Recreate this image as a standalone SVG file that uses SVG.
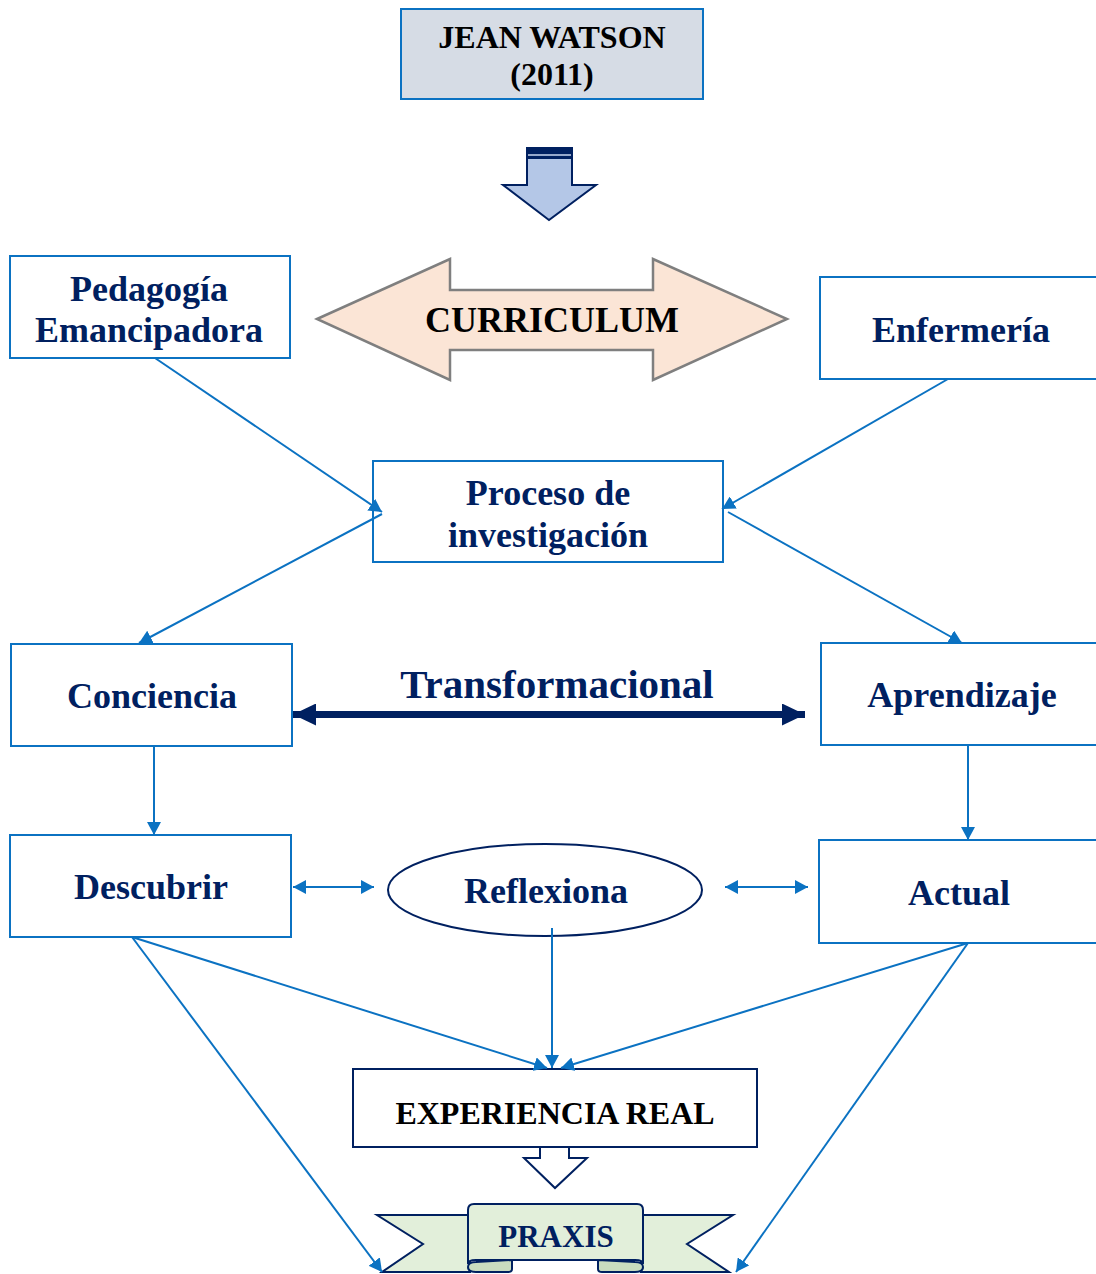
<svg xmlns="http://www.w3.org/2000/svg" width="1096" height="1274" viewBox="0 0 1096 1274">
  <defs>
    <style>
      .box { fill: #ffffff; stroke: #0b72c2; stroke-width: 2; }
      .lbl { font-family: "Liberation Serif", "Times New Roman", serif; font-weight: bold; font-size: 36px; fill: #002060; text-anchor: middle; }
      .blk { fill: #000000; }
      .s31 { font-size: 31px; }
      .s32 { font-size: 32px; }
      .s41 { font-size: 41px; }
      .link { fill: none; stroke: #0b72c2; stroke-width: 2; }
      .navy { stroke: #002060; stroke-width: 2; }
    </style>
    <marker id="tip" viewBox="0 0 13 14" refX="13" refY="7" markerWidth="13" markerHeight="14" markerUnits="userSpaceOnUse" orient="auto-start-reverse">
      <path d="M0,0 L13,7 L0,14 Z" fill="#0b72c2"/>
    </marker>
    <marker id="bigtip" viewBox="0 0 23 22" refX="23" refY="11" markerWidth="23" markerHeight="22" markerUnits="userSpaceOnUse" orient="auto-start-reverse">
      <path d="M0,0 L23,11 L0,22 Z" fill="#002060"/>
    </marker>
  </defs>

  <rect width="1096" height="1274" fill="#ffffff"/>

  <!-- Title -->
  <g id="watson">
    <rect x="401" y="9" width="302" height="90" fill="#d6dce5" stroke="#0b72c2" stroke-width="2"/>
    <text class="lbl blk s32" x="552" y="48">JEAN WATSON</text>
    <text class="lbl blk s32" x="552" y="85">(2011)</text>
  </g>

  <!-- Block arrow under the title -->
  <g id="down-arrow">
    <polygon points="527,148 572,148 572,185 596,185 549,220 503,185 527,185" fill="#b4c7e7" class="navy"/>
    <rect x="527" y="148" width="45" height="11" fill="#002060"/>
    <line x1="528" y1="155" x2="571" y2="155" stroke="#c9d6ee" stroke-width="1.5"/>
  </g>

  <!-- Curriculum double arrow -->
  <g id="curriculum">
    <polygon points="317,319 450,259 450,290 653,290 653,259 787,319 653,380 653,350 450,350 450,380" fill="#fbe5d6" stroke="#7f7f7f" stroke-width="2.5"/>
    <text class="lbl blk" x="552" y="332">CURRICULUM</text>
  </g>

  <g id="pedagogia">
    <rect class="box" x="10" y="256" width="280" height="102"/>
    <text class="lbl" x="149" y="301">Pedagogía</text>
    <text class="lbl" x="149" y="342">Emancipadora</text>
  </g>

  <g id="enfermeria">
    <rect class="box" x="820" y="277" width="282" height="102"/>
    <text class="lbl" x="961" y="342">Enfermería</text>
  </g>

  <g id="proceso">
    <rect class="box" x="373" y="461" width="350" height="101"/>
    <text class="lbl" x="548" y="505">Proceso de</text>
    <text class="lbl" x="548" y="547">investigación</text>
  </g>

  <g id="conciencia">
    <rect class="box" x="11" y="644" width="281" height="102"/>
    <text class="lbl" x="152" y="708">Conciencia</text>
  </g>

  <g id="transformacional">
    <text class="lbl s41" x="557" y="698">Transformacional</text>
  </g>

  <g id="aprendizaje">
    <rect class="box" x="821" y="643" width="282" height="102"/>
    <text class="lbl" x="962" y="707">Aprendizaje</text>
  </g>

  <g id="descubrir">
    <rect class="box" x="10" y="835" width="281" height="102"/>
    <text class="lbl" x="151" y="899">Descubrir</text>
  </g>

  <g id="reflexiona">
    <ellipse cx="545" cy="890" rx="157" ry="46" fill="#ffffff" class="navy"/>
    <text class="lbl" x="546" y="903">Reflexiona</text>
  </g>

  <g id="actual">
    <rect class="box" x="819" y="840" width="282" height="103"/>
    <text class="lbl" x="959" y="905">Actual</text>
  </g>

  <g id="experiencia">
    <rect x="353" y="1069" width="404" height="78" fill="#ffffff" class="navy"/>
    <text class="lbl blk s32" x="555" y="1124">EXPERIENCIA REAL</text>
    <polygon points="540,1147 569,1147 569,1158 587,1158 555,1188 524,1158 540,1158" fill="#ffffff" class="navy"/>
  </g>

  <!-- Ribbon banner -->
  <g id="praxis">
    <path d="M377,1215 L470,1215 L470,1272 L382,1272 L423,1244 Z" fill="#e2efda" class="navy"/>
    <path d="M733,1215 L641,1215 L641,1272 L729,1272 L687,1244 Z" fill="#e2efda" class="navy"/>
    <path d="M512,1260 L512,1269 Q512,1272 508,1272 L476,1272 Q468,1272 468,1267 Q468,1262 476,1262 Z" fill="#c9dcbf" class="navy"/>
    <path d="M598,1260 L598,1269 Q598,1272 602,1272 L635,1272 Q643,1272 643,1267 Q643,1262 635,1262 Z" fill="#c9dcbf" class="navy"/>
    <path d="M468,1264 L468,1210 Q468,1204 474,1204 L637,1204 Q643,1204 643,1210 L643,1264 Q643,1260 635,1260 L476,1260 Q468,1260 468,1264 Z" fill="#e2efda" class="navy"/>
    <text class="lbl s31" x="556" y="1247">PRAXIS</text>
  </g>

  <!-- Connectors -->
  <g id="connectors">
    <line class="link" x1="155" y1="358" x2="382" y2="512" marker-end="url(#tip)"/>
    <line class="link" x1="382" y1="514" x2="139" y2="643" marker-end="url(#tip)"/>
    <line class="link" x1="948" y1="379" x2="722" y2="509" marker-end="url(#tip)"/>
    <line class="link" x1="728" y1="512" x2="962" y2="643" marker-end="url(#tip)"/>
    <line class="link" x1="154" y1="746" x2="154" y2="835" marker-end="url(#tip)"/>
    <line class="link" x1="968" y1="745" x2="968" y2="840" marker-end="url(#tip)"/>
    <line class="link" x1="293" y1="887" x2="374" y2="887" marker-start="url(#tip)" marker-end="url(#tip)"/>
    <line class="link" x1="725" y1="887" x2="808" y2="887" marker-start="url(#tip)" marker-end="url(#tip)"/>
    <line class="link" x1="552" y1="928" x2="552" y2="1068" marker-end="url(#tip)"/>
    <line class="link" x1="132" y1="937" x2="547" y2="1068" marker-end="url(#tip)"/>
    <line class="link" x1="968" y1="943" x2="561" y2="1068" marker-end="url(#tip)"/>
    <line class="link" x1="132" y1="937" x2="382" y2="1272" marker-end="url(#tip)"/>
    <line class="link" x1="968" y1="943" x2="736" y2="1272" marker-end="url(#tip)"/>
    <line x1="293" y1="714.5" x2="805" y2="714.5" stroke="#002060" stroke-width="7" marker-start="url(#bigtip)" marker-end="url(#bigtip)"/>
  </g>
</svg>
